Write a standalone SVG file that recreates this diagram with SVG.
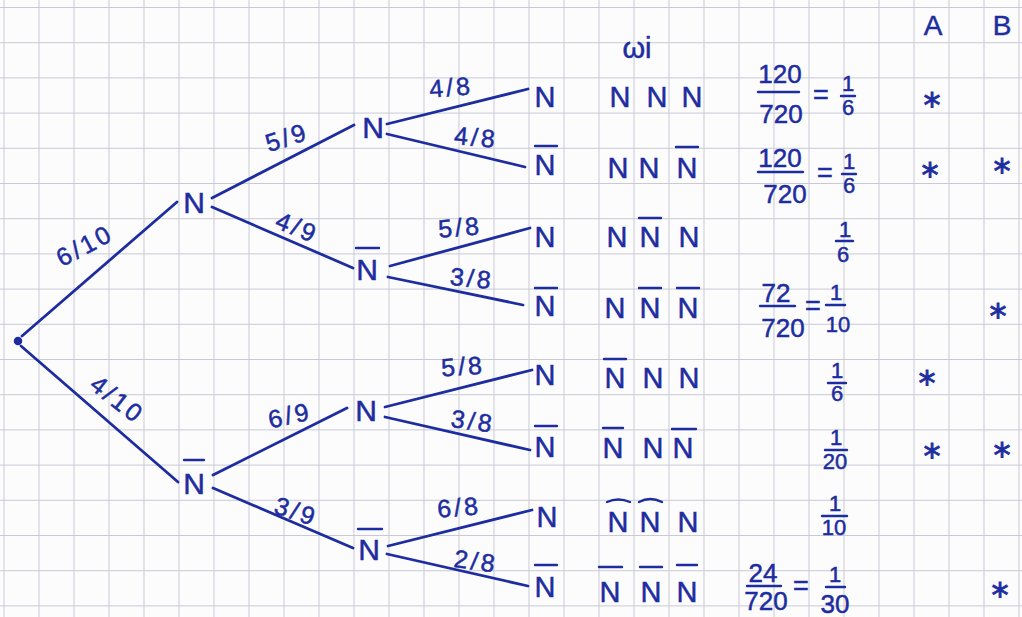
<svg xmlns="http://www.w3.org/2000/svg" width="1022" height="617" viewBox="0 0 1022 617">
<defs>
<style>
.grid line{stroke:#c9cad6;stroke-width:1}
.edge{stroke:#1d2d9f;stroke-width:2.8;stroke-linecap:round;fill:none}
.bar{stroke:#1d2d9f;stroke-width:2.4;stroke-linecap:round;fill:none}
.t{font-family:"Liberation Sans",Arial,sans-serif;fill:#1d2d9f;text-anchor:middle;stroke:#1d2d9f;stroke-width:0.5}
.nd{font-size:30px}
.lf{font-size:29px}
.lb{font-size:25px;letter-spacing:3px}
.big{font-size:26px}
.sm{font-size:22px}
.eq{font-size:27px}
.ast{font-family:"DejaVu Sans",sans-serif;font-size:34px;fill:#1d2d9f;text-anchor:middle;stroke:#1d2d9f;stroke-width:0.9}
</style>
</defs>
<rect width="1022" height="617" fill="#fcfcfd"/>
<g class="grid">
<line x1="4" y1="0" x2="4" y2="617"/><line x1="39" y1="0" x2="39" y2="617"/><line x1="74" y1="0" x2="74" y2="617"/><line x1="109" y1="0" x2="109" y2="617"/><line x1="144" y1="0" x2="144" y2="617"/><line x1="179" y1="0" x2="179" y2="617"/><line x1="214" y1="0" x2="214" y2="617"/><line x1="249" y1="0" x2="249" y2="617"/><line x1="284" y1="0" x2="284" y2="617"/><line x1="319" y1="0" x2="319" y2="617"/><line x1="354" y1="0" x2="354" y2="617"/><line x1="389" y1="0" x2="389" y2="617"/><line x1="424" y1="0" x2="424" y2="617"/><line x1="459" y1="0" x2="459" y2="617"/><line x1="494" y1="0" x2="494" y2="617"/><line x1="529" y1="0" x2="529" y2="617"/><line x1="564" y1="0" x2="564" y2="617"/><line x1="599" y1="0" x2="599" y2="617"/><line x1="634" y1="0" x2="634" y2="617"/><line x1="669" y1="0" x2="669" y2="617"/><line x1="704" y1="0" x2="704" y2="617"/><line x1="739" y1="0" x2="739" y2="617"/><line x1="774" y1="0" x2="774" y2="617"/><line x1="809" y1="0" x2="809" y2="617"/><line x1="844" y1="0" x2="844" y2="617"/><line x1="879" y1="0" x2="879" y2="617"/><line x1="914" y1="0" x2="914" y2="617"/><line x1="949" y1="0" x2="949" y2="617"/><line x1="984" y1="0" x2="984" y2="617"/><line x1="1019" y1="0" x2="1019" y2="617"/>
<line x1="0" y1="7.5" x2="1022" y2="7.5"/><line x1="0" y1="42.7" x2="1022" y2="42.7"/><line x1="0" y1="77.9" x2="1022" y2="77.9"/><line x1="0" y1="113.1" x2="1022" y2="113.1"/><line x1="0" y1="148.3" x2="1022" y2="148.3"/><line x1="0" y1="183.5" x2="1022" y2="183.5"/><line x1="0" y1="218.7" x2="1022" y2="218.7"/><line x1="0" y1="253.9" x2="1022" y2="253.9"/><line x1="0" y1="289.1" x2="1022" y2="289.1"/><line x1="0" y1="324.3" x2="1022" y2="324.3"/><line x1="0" y1="359.5" x2="1022" y2="359.5"/><line x1="0" y1="394.7" x2="1022" y2="394.7"/><line x1="0" y1="429.9" x2="1022" y2="429.9"/><line x1="0" y1="465.1" x2="1022" y2="465.1"/><line x1="0" y1="500.3" x2="1022" y2="500.3"/><line x1="0" y1="535.5" x2="1022" y2="535.5"/><line x1="0" y1="570.7" x2="1022" y2="570.7"/><line x1="0" y1="605.9" x2="1022" y2="605.9"/>
</g>
<g id="connectors">
<line class="edge" x1="22" y1="336" x2="177" y2="202"/>
<line class="edge" x1="21" y1="346" x2="178" y2="482"/>
<line class="edge" x1="212" y1="198" x2="354" y2="125"/>
<line class="edge" x1="212" y1="207" x2="353" y2="268"/>
<line class="edge" x1="213" y1="475" x2="347" y2="408"/>
<line class="edge" x1="213" y1="488" x2="353" y2="548"/>
<line class="edge" x1="387" y1="124" x2="528" y2="89"/>
<line class="edge" x1="387" y1="134" x2="525" y2="167"/>
<line class="edge" x1="390" y1="266" x2="530" y2="228"/>
<line class="edge" x1="388" y1="277" x2="523" y2="305"/>
<line class="edge" x1="385" y1="407" x2="532" y2="370"/>
<line class="edge" x1="385" y1="417" x2="530" y2="450"/>
<line class="edge" x1="388" y1="546" x2="532" y2="510"/>
<line class="edge" x1="387" y1="554" x2="528" y2="586"/>
</g>
<g id="edge-labels" class="t lb">
<text x="85" y="254" transform="rotate(-28 85 246)">6/10</text>
<text x="117" y="408" transform="rotate(38 117 400)">4/10</text>
<text x="287" y="146" transform="rotate(-18 287 138)">5/9</text>
<text x="297" y="236" transform="rotate(22 297 228)">4/9</text>
<text x="290" y="424" transform="rotate(-12 290 416)">6/9</text>
<text x="296" y="520" transform="rotate(18 296 512)">3/9</text>
<text x="451" y="96" transform="rotate(-5 451 87)">4/8</text>
<text x="476" y="146" transform="rotate(5 476 137)">4/8</text>
<text x="460" y="236" transform="rotate(-5 460 227)">5/8</text>
<text x="472" y="287" transform="rotate(6 472 278)">3/8</text>
<text x="463" y="375" transform="rotate(-4 463 366)">5/8</text>
<text x="473" y="430" transform="rotate(8 473 421)">3/8</text>
<text x="459" y="516" transform="rotate(-5 459 507)">6/8</text>
<text x="476" y="570" transform="rotate(8 476 561)">2/8</text>
</g>
<g id="root"><circle cx="18" cy="341" r="3.5" fill="#1d2d9f" stroke="#1d2d9f" stroke-width="1.5"/></g>
<g id="n1"><text class="t nd" x="194" y="213">N</text></g>
<g id="n2"><line class="bar" x1="184" y1="460" x2="204" y2="460"/><text class="t nd" x="194" y="494">N</text></g>
<g id="n11"><text class="t nd" x="373" y="138">N</text></g>
<g id="n12"><line class="bar" x1="356" y1="248" x2="379" y2="248"/><text class="t nd" x="367" y="280">N</text></g>
<g id="n21"><text class="t nd" x="366" y="421">N</text></g>
<g id="n22"><line class="bar" x1="358" y1="529" x2="382" y2="529"/><text class="t nd" x="369" y="560">N</text></g>
<g id="l1"><text class="t lf" x="545" y="107">N</text></g>
<g id="l2"><line class="bar" x1="535" y1="146" x2="557" y2="146"/><text class="t lf" x="545" y="175">N</text></g>
<g id="l3"><text class="t lf" x="545" y="247">N</text></g>
<g id="l4"><line class="bar" x1="535" y1="288" x2="557" y2="288"/><text class="t lf" x="545" y="316">N</text></g>
<g id="l5"><text class="t lf" x="545" y="385">N</text></g>
<g id="l6"><line class="bar" x1="535" y1="426" x2="557" y2="426"/><text class="t lf" x="545" y="457">N</text></g>
<g id="l7"><text class="t lf" x="547" y="527">N</text></g>
<g id="l8"><line class="bar" x1="535" y1="565" x2="557" y2="565"/><text class="t lf" x="545" y="597">N</text></g>
<g id="outcomes" class="t lf">
<text x="637" y="58" style="font-size:29px">ωi</text>
<text x="620" y="107">N</text><text x="657" y="107">N</text><text x="692" y="107">N</text>
<text x="618" y="178">N</text><text x="649" y="178">N</text><text x="687" y="178">N</text>
<line class="bar" x1="676" y1="147" x2="698" y2="147"/>
<text x="617" y="247">N</text><text x="650" y="247">N</text><text x="689" y="247">N</text>
<line class="bar" x1="639" y1="218" x2="661" y2="218"/>
<text x="615" y="318">N</text><text x="650" y="318">N</text><text x="688" y="318">N</text>
<line class="bar" x1="639" y1="288" x2="661" y2="288"/><line class="bar" x1="677" y1="288" x2="699" y2="288"/>
<text x="615" y="388">N</text><text x="653" y="388">N</text><text x="689" y="388">N</text>
<line class="bar" x1="604" y1="359" x2="626" y2="359"/>
<text x="613" y="458">N</text><text x="653" y="458">N</text><text x="683" y="458">N</text>
<line class="bar" x1="603" y1="428" x2="623" y2="428"/><line class="bar" x1="672" y1="429" x2="696" y2="429"/>
<text x="618" y="532">N</text><text x="650" y="532">N</text><text x="688" y="532">N</text>
<path class="bar" d="M607 502 Q618 497 630 502"/><path class="bar" d="M639 502 Q650 496 662 502"/>
<text x="610" y="602">N</text><text x="651" y="602">N</text><text x="687" y="602">N</text>
<line class="bar" x1="599" y1="567" x2="622" y2="567"/><line class="bar" x1="640" y1="567" x2="662" y2="567"/><line class="bar" x1="677" y1="565" x2="697" y2="565"/>
</g>
<g id="probabilities" class="t">
<text class="big" x="780" y="83">120</text><line class="bar" x1="758" y1="92" x2="799" y2="92"/><text class="big" x="781" y="123">720</text>
<text class="eq" x="821" y="104">=</text><text class="sm" x="848" y="91">1</text><line class="bar" x1="841" y1="96" x2="855" y2="96"/><text class="sm" x="848" y="115">6</text>
<text class="big" x="780" y="167">120</text><line class="bar" x1="758" y1="172" x2="803" y2="172"/><text class="big" x="785" y="203">720</text>
<text class="eq" x="825" y="182">=</text><text class="sm" x="849" y="169">1</text><line class="bar" x1="842" y1="174" x2="856" y2="174"/><text class="sm" x="849" y="193">6</text>
<text class="sm" x="845" y="237">1</text><line class="bar" x1="836" y1="241" x2="853" y2="241"/><text class="sm" x="843" y="262">6</text>
<text class="big" x="776" y="302">72</text><line class="bar" x1="760" y1="306" x2="795" y2="306"/><text class="big" x="783" y="337">720</text>
<text class="eq" x="813" y="315">=</text><text class="sm" x="836" y="300">1</text><line class="bar" x1="826" y1="305" x2="845" y2="305"/><text class="sm" x="838" y="332">10</text>
<text class="sm" x="837" y="378">1</text><line class="bar" x1="828" y1="383" x2="846" y2="383"/><text class="sm" x="837" y="401">6</text>
<text class="sm" x="836" y="445">1</text><line class="bar" x1="825" y1="450" x2="847" y2="450"/><text class="sm" x="835" y="469">20</text>
<text class="sm" x="835" y="511">1</text><line class="bar" x1="822" y1="516" x2="847" y2="516"/><text class="sm" x="834" y="535">10</text>
<text class="big" x="763" y="582">24</text><line class="bar" x1="747" y1="586" x2="781" y2="586"/><text class="big" x="766" y="610">720</text>
<text class="eq" x="801" y="595">=</text><text class="sm" x="835" y="582">1</text><line class="bar" x1="826" y1="587" x2="845" y2="587"/><text class="big" x="835" y="613">30</text>
</g>
<g id="events">
<text class="t" style="font-size:28px" x="933" y="35">A</text>
<text class="t" style="font-size:28px" x="1002" y="35">B</text>
<text class="ast" x="932" y="117">*</text>
<text class="ast" x="930" y="187">*</text>
<text class="ast" x="927" y="395">*</text>
<text class="ast" x="932" y="468">*</text>
<text class="ast" x="1002" y="183">*</text>
<text class="ast" x="998" y="328">*</text>
<text class="ast" x="1002" y="467">*</text>
<text class="ast" x="1000" y="607">*</text>
</g>
</svg>
